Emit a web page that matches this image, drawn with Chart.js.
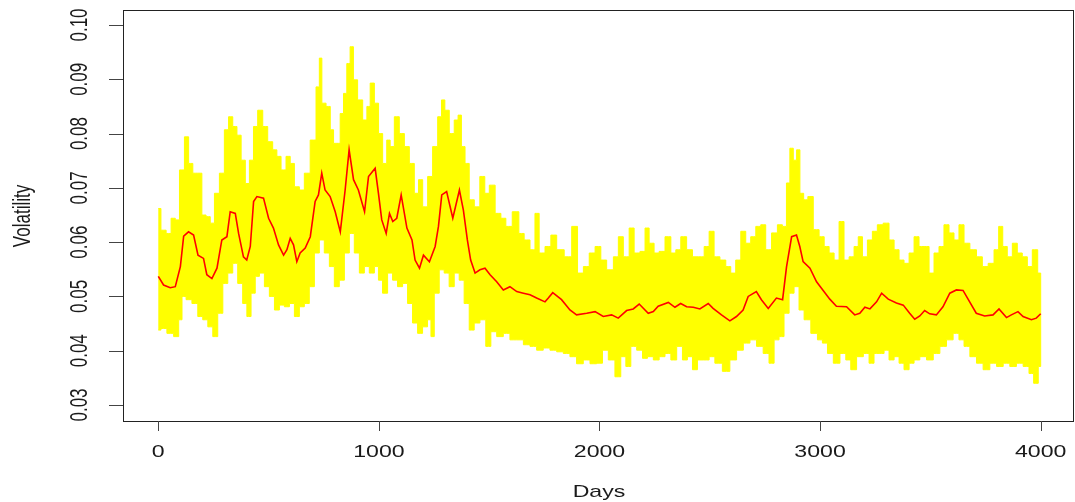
<!DOCTYPE html>
<html>
<head>
<meta charset="utf-8">
<script src="https://cdn.jsdelivr.net/npm/chart.js@4/dist/chart.umd.min.js"></script>
<style>
  html, body { margin: 0; padding: 0; background: #fff; }
  canvas { display: block; }
</style>
</head>
<body>
<canvas id="volChart" width="1075" height="502"></canvas>
<script>
// [day, volatility]
const meanLine = [
  [0,0.0537],[24,0.0521],[54,0.0516],[77,0.0518],[100,0.0555],[115,0.0611],[137,0.0619],[160,0.0613],
  [180,0.0576],[205,0.0570],[220,0.0540],[243,0.0533],[266,0.0552],[288,0.0604],[311,0.0610],[326,0.0656],
  [349,0.0653],[364,0.0616],[386,0.0573],[401,0.0567],[417,0.0592],[432,0.0675],[447,0.0684],[477,0.0681],
  [500,0.0644],[522,0.0626],[545,0.0595],[568,0.0576],[583,0.0586],[598,0.0607],[613,0.0595],[628,0.0564],
  [643,0.0580],[666,0.0589],[689,0.0610],[711,0.0675],[726,0.0687],[741,0.0727],[756,0.0696],[779,0.0684],
  [802,0.0656],[825,0.0619],[847,0.0696],[865,0.0770],[885,0.0715],[907,0.0696],[935,0.0656],[953,0.0721],
  [983,0.0736],[998,0.0690],[1013,0.0641],[1033,0.0616],[1048,0.0653],[1063,0.0638],[1081,0.0644],[1101,0.0687],
  [1127,0.0626],[1150,0.0604],[1164,0.0567],[1184,0.0552],[1202,0.0576],[1229,0.0564],[1255,0.0592],[1270,0.0629],
  [1285,0.0687],[1307,0.0693],[1335,0.0644],[1365,0.0696],[1383,0.0659],[1401,0.0604],[1416,0.0567],[1436,0.0543],
  [1458,0.0549],[1481,0.0552],[1504,0.0540],[1534,0.0527],[1564,0.0512],[1594,0.0518],[1625,0.0509],[1655,0.0506],
  [1685,0.0503],[1715,0.0497],[1753,0.0490],[1768,0.0497],[1788,0.0507],[1828,0.0494],[1866,0.0475],[1896,0.0466],
  [1942,0.0469],[1980,0.0472],[2017,0.0463],[2055,0.0466],[2085,0.0460],[2123,0.0474],[2153,0.0477],[2180,0.0486],
  [2221,0.0469],[2244,0.0472],[2266,0.0482],[2312,0.0489],[2342,0.0480],[2368,0.0487],[2395,0.0481],[2425,0.0480],
  [2455,0.0477],[2493,0.0487],[2515,0.0478],[2553,0.0466],[2591,0.0455],[2621,0.0463],[2651,0.0475],[2674,0.0500],
  [2711,0.0509],[2734,0.0494],[2765,0.0478],[2802,0.0497],[2830,0.0494],[2848,0.0555],[2871,0.0610],[2893,0.0613],
  [2908,0.0592],[2923,0.0564],[2954,0.0552],[2984,0.0527],[3014,0.0511],[3044,0.0495],[3074,0.0482],[3120,0.0481],
  [3157,0.0466],[3180,0.0469],[3203,0.0480],[3226,0.0477],[3256,0.0490],[3279,0.0506],[3309,0.0495],[3346,0.0488],
  [3377,0.0484],[3406,0.0469],[3429,0.0458],[3452,0.0464],[3474,0.0474],[3497,0.0468],[3527,0.0466],[3557,0.0481],
  [3588,0.0506],[3618,0.0512],[3648,0.0511],[3678,0.0490],[3708,0.0469],[3746,0.0464],[3784,0.0466],[3811,0.0477],
  [3845,0.0461],[3867,0.0466],[3897,0.0472],[3920,0.0463],[3958,0.0457],[3980,0.0460],[4000,0.0468]
];

const upperEdge = [
  [0,0.0662],[24,0.0622],[47,0.0616],[69,0.0644],[85,0.0641],[107,0.0733],[130,0.0794],[145,0.0745],
  [168,0.0727],[190,0.0727],[205,0.0650],[228,0.0647],[243,0.0635],[266,0.0690],[288,0.0727],[311,0.0807],
  [326,0.0831],[349,0.0813],[364,0.0797],[387,0.0751],[402,0.0708],[424,0.0751],[439,0.0813],[462,0.0843],
  [485,0.0813],[507,0.0785],[530,0.0770],[545,0.0758],[568,0.0733],[590,0.0758],[606,0.0745],[628,0.0702],
  [651,0.0696],[673,0.0727],[704,0.0788],[726,0.0886],[734,0.0939],[749,0.0856],[772,0.0850],[787,0.0807],
  [802,0.0782],[817,0.0782],[832,0.0837],[847,0.0874],[862,0.0929],[877,0.0960],[892,0.0899],[915,0.0862],
  [938,0.0825],[953,0.0850],[968,0.0893],[991,0.0856],[1006,0.0800],[1028,0.0745],[1043,0.0788],[1059,0.0776],
  [1081,0.0831],[1104,0.0800],[1127,0.0776],[1149,0.0745],[1172,0.0690],[1187,0.0715],[1210,0.0665],[1232,0.0721],
  [1255,0.0776],[1278,0.0831],[1290,0.0862],[1308,0.0843],[1330,0.0800],[1353,0.0825],[1365,0.0834],[1383,0.0776],
  [1398,0.0745],[1421,0.0678],[1444,0.0665],[1471,0.0721],[1489,0.0690],[1512,0.0705],[1542,0.0653],[1564,0.0644],
  [1587,0.0629],[1622,0.0656],[1647,0.0616],[1670,0.0604],[1700,0.0586],[1715,0.0653],[1738,0.0580],[1768,0.0592],
  [1791,0.0613],[1821,0.0586],[1859,0.0573],[1889,0.0629],[1912,0.0543],[1942,0.0555],[1965,0.0580],[1995,0.0592],
  [2017,0.0567],[2048,0.0549],[2078,0.0573],[2093,0.0610],[2123,0.0573],[2146,0.0626],[2168,0.0580],[2199,0.0583],
  [2214,0.0626],[2236,0.0598],[2259,0.0580],[2282,0.0583],[2312,0.0610],[2335,0.0580],[2357,0.0586],[2380,0.0610],
  [2410,0.0586],[2433,0.0573],[2463,0.0573],[2486,0.0592],[2508,0.0620],[2531,0.0573],[2561,0.0567],[2584,0.0555],
  [2606,0.0543],[2629,0.0567],[2652,0.0620],[2674,0.0598],[2697,0.0610],[2720,0.0629],[2742,0.0632],[2765,0.0586],
  [2795,0.0617],[2818,0.0632],[2840,0.0629],[2855,0.0709],[2871,0.0773],[2886,0.0751],[2901,0.0770],[2916,0.0690],
  [2935,0.0678],[2954,0.0684],[2984,0.0623],[3007,0.0610],[3030,0.0592],[3052,0.0580],[3075,0.0567],[3097,0.0638],
  [3120,0.0567],[3143,0.0573],[3165,0.0592],[3181,0.0610],[3203,0.0573],[3226,0.0604],[3248,0.0620],[3271,0.0632],
  [3301,0.0635],[3324,0.0604],[3347,0.0586],[3369,0.0567],[3392,0.0561],[3415,0.0580],[3437,0.0610],[3460,0.0592],
  [3483,0.0592],[3505,0.0543],[3528,0.0580],[3550,0.0592],[3573,0.0632],[3596,0.0617],[3618,0.0604],[3641,0.0632],
  [3664,0.0598],[3694,0.0586],[3724,0.0573],[3747,0.0555],[3777,0.0561],[3800,0.0586],[3819,0.0629],[3837,0.0592],
  [3860,0.0573],[3883,0.0598],[3905,0.0580],[3928,0.0573],[3951,0.0555],[3973,0.0586],[4000,0.0543]
];

const lowerEdge = [
  [0,0.0438],[24,0.0441],[54,0.0432],[85,0.0426],[100,0.0457],[115,0.0500],[137,0.0494],[168,0.0487],
  [190,0.0463],[213,0.0457],[236,0.0444],[258,0.0426],[281,0.0469],[304,0.0524],[326,0.0543],[349,0.0561],
  [371,0.0524],[394,0.0487],[409,0.0463],[432,0.0506],[447,0.0537],[470,0.0543],[492,0.0518],[515,0.0500],
  [538,0.0475],[560,0.0484],[583,0.0481],[606,0.0487],[628,0.0463],[651,0.0481],[673,0.0487],[696,0.0518],
  [719,0.0580],[741,0.0604],[764,0.0580],[787,0.0555],[809,0.0518],[832,0.0530],[855,0.0580],[877,0.0616],
  [900,0.0580],[923,0.0543],[945,0.0555],[968,0.0543],[991,0.0555],[1005,0.0530],[1028,0.0506],[1051,0.0543],
  [1073,0.0530],[1096,0.0518],[1119,0.0524],[1141,0.0487],[1164,0.0451],[1187,0.0432],[1209,0.0444],[1232,0.0457],
  [1240,0.0426],[1262,0.0506],[1285,0.0549],[1307,0.0543],[1330,0.0518],[1353,0.0543],[1375,0.0530],[1398,0.0487],
  [1421,0.0438],[1443,0.0451],[1473,0.0457],[1496,0.0408],[1519,0.0435],[1549,0.0426],[1579,0.0432],[1609,0.0420],
  [1640,0.0420],[1670,0.0411],[1700,0.0408],[1730,0.0401],[1760,0.0405],[1791,0.0401],[1821,0.0398],[1851,0.0395],
  [1881,0.0389],[1911,0.0376],[1942,0.0383],[1972,0.0376],[2002,0.0377],[2025,0.0401],[2055,0.0383],[2085,0.0352],
  [2108,0.0389],[2131,0.0371],[2153,0.0408],[2184,0.0401],[2206,0.0386],[2229,0.0389],[2259,0.0383],[2282,0.0389],
  [2312,0.0395],[2335,0.0383],[2365,0.0408],[2387,0.0383],[2410,0.0389],[2433,0.0365],[2455,0.0383],[2486,0.0383],
  [2508,0.0389],[2538,0.0377],[2576,0.0362],[2606,0.0383],[2637,0.0401],[2667,0.0414],[2697,0.0420],[2727,0.0408],
  [2757,0.0395],[2780,0.0377],[2803,0.0420],[2825,0.0426],[2848,0.0469],[2871,0.0506],[2893,0.0518],[2916,0.0475],
  [2939,0.0457],[2977,0.0432],[2999,0.0420],[3022,0.0414],[3045,0.0395],[3075,0.0377],[3105,0.0395],[3128,0.0383],
  [3150,0.0365],[3181,0.0389],[3211,0.0395],[3233,0.0377],[3256,0.0395],[3279,0.0395],[3301,0.0401],[3324,0.0383],
  [3347,0.0389],[3369,0.0377],[3392,0.0365],[3415,0.0377],[3437,0.0383],[3467,0.0389],[3498,0.0383],[3528,0.0395],
  [3558,0.0408],[3588,0.0420],[3618,0.0432],[3641,0.0420],[3664,0.0408],[3694,0.0389],[3724,0.0377],[3754,0.0365],
  [3785,0.0377],[3815,0.0371],[3845,0.0377],[3875,0.0371],[3905,0.0377],[3936,0.0371],[3958,0.0358],[3978,0.0340],
  [4000,0.0371]
];

const xTicks = [0, 1000, 2000, 3000, 4000];
const yTicks = [0.03, 0.04, 0.05, 0.06, 0.07, 0.08, 0.09, 0.10];
const yTickLabels = ["0.03", "0.04", "0.05", "0.06", "0.07", "0.08", "0.09", "0.10"];
const xTitle = "Days";
const yTitle = "Volatility";

const toPoints = arr => arr.map(([d, v]) => ({ x: d, y: v }));

// the picture is stretched sideways, so text is too
const STRETCH = 1.36;
const FONT = '17px "Liberation Sans", Arial, sans-serif';

function stretchedText(ctx, txt, x, y, rotated) {
    ctx.save();
    ctx.translate(x, y);
    ctx.scale(STRETCH, 1);
    if (rotated) ctx.rotate(-Math.PI / 2);
    ctx.textAlign = "center";
    ctx.textBaseline = "alphabetic";
    ctx.fillText(txt, 0, 0);
    ctx.restore();
}

// base-R style frame, ticks and labels
const rFrame = {
    id: "rFrame",
    afterDraw(chart) {
        const { ctx, chartArea: a } = chart;
        const xs = chart.scales.x;
        const ys = chart.scales.y;

        ctx.save();
        ctx.strokeStyle = "#222";
        ctx.lineWidth = 1;
        ctx.strokeRect(a.left + 0.5, a.top - 0.5, a.right - a.left - 1, a.bottom - a.top + 1);

        ctx.strokeStyle = "#444";
        ctx.beginPath();
        yTicks.forEach(v => {
            const py = Math.round(ys.getPixelForValue(v)) + 0.5;
            ctx.moveTo(a.left - 14, py);
            ctx.lineTo(a.left, py);
        });
        xTicks.forEach(v => {
            const px = Math.round(xs.getPixelForValue(v)) + 0.5;
            ctx.moveTo(px, a.bottom);
            ctx.lineTo(px, a.bottom + 10);
        });
        ctx.stroke();

        ctx.fillStyle = "#1a1a1a";
        ctx.font = FONT;
        yTicks.forEach((v, i) => {
            stretchedText(ctx, yTickLabels[i], 87, ys.getPixelForValue(v), true);
        });
        xTicks.forEach(v => {
            stretchedText(ctx, String(v), xs.getPixelForValue(v), 457, false);
        });

        stretchedText(ctx, xTitle, (a.left + a.right) / 2 + 0.5, 497, false);
        stretchedText(ctx, yTitle, 30, (a.top + a.bottom) / 2, true);
        ctx.restore();
    }
};

const ctx = document.getElementById("volChart").getContext("2d");

new Chart(ctx, {
    type: "line",
    data: {
        datasets: [
            {
                data: toPoints(meanLine),
                borderColor: "#ff0000",
                borderWidth: 1.6,
                pointRadius: 0,
                fill: false,
                tension: 0
            },
            {
                // upper edge out, lower edge back: one closed band, blocky like R's day bars
                data: toPoints(upperEdge).concat(toPoints(lowerEdge).reverse()),
                borderColor: "#ffff00",
                backgroundColor: "#ffff00",
                borderWidth: 1,
                pointRadius: 0,
                fill: "shape",
                stepped: "middle"
            }
        ]
    },
    options: {
        responsive: false,
        animation: false,
        layout: { padding: { left: 123, top: 11, right: 1, bottom: 81 } },
        scales: {
            x: { type: "linear", display: false, min: -160, max: 4151 },
            y: { type: "linear", display: false, min: 0.027053, max: 0.102579 }
        },
        plugins: {
            legend: { display: false },
            tooltip: { enabled: false }
        }
    },
    plugins: [rFrame]
});
</script>
</body>
</html>
